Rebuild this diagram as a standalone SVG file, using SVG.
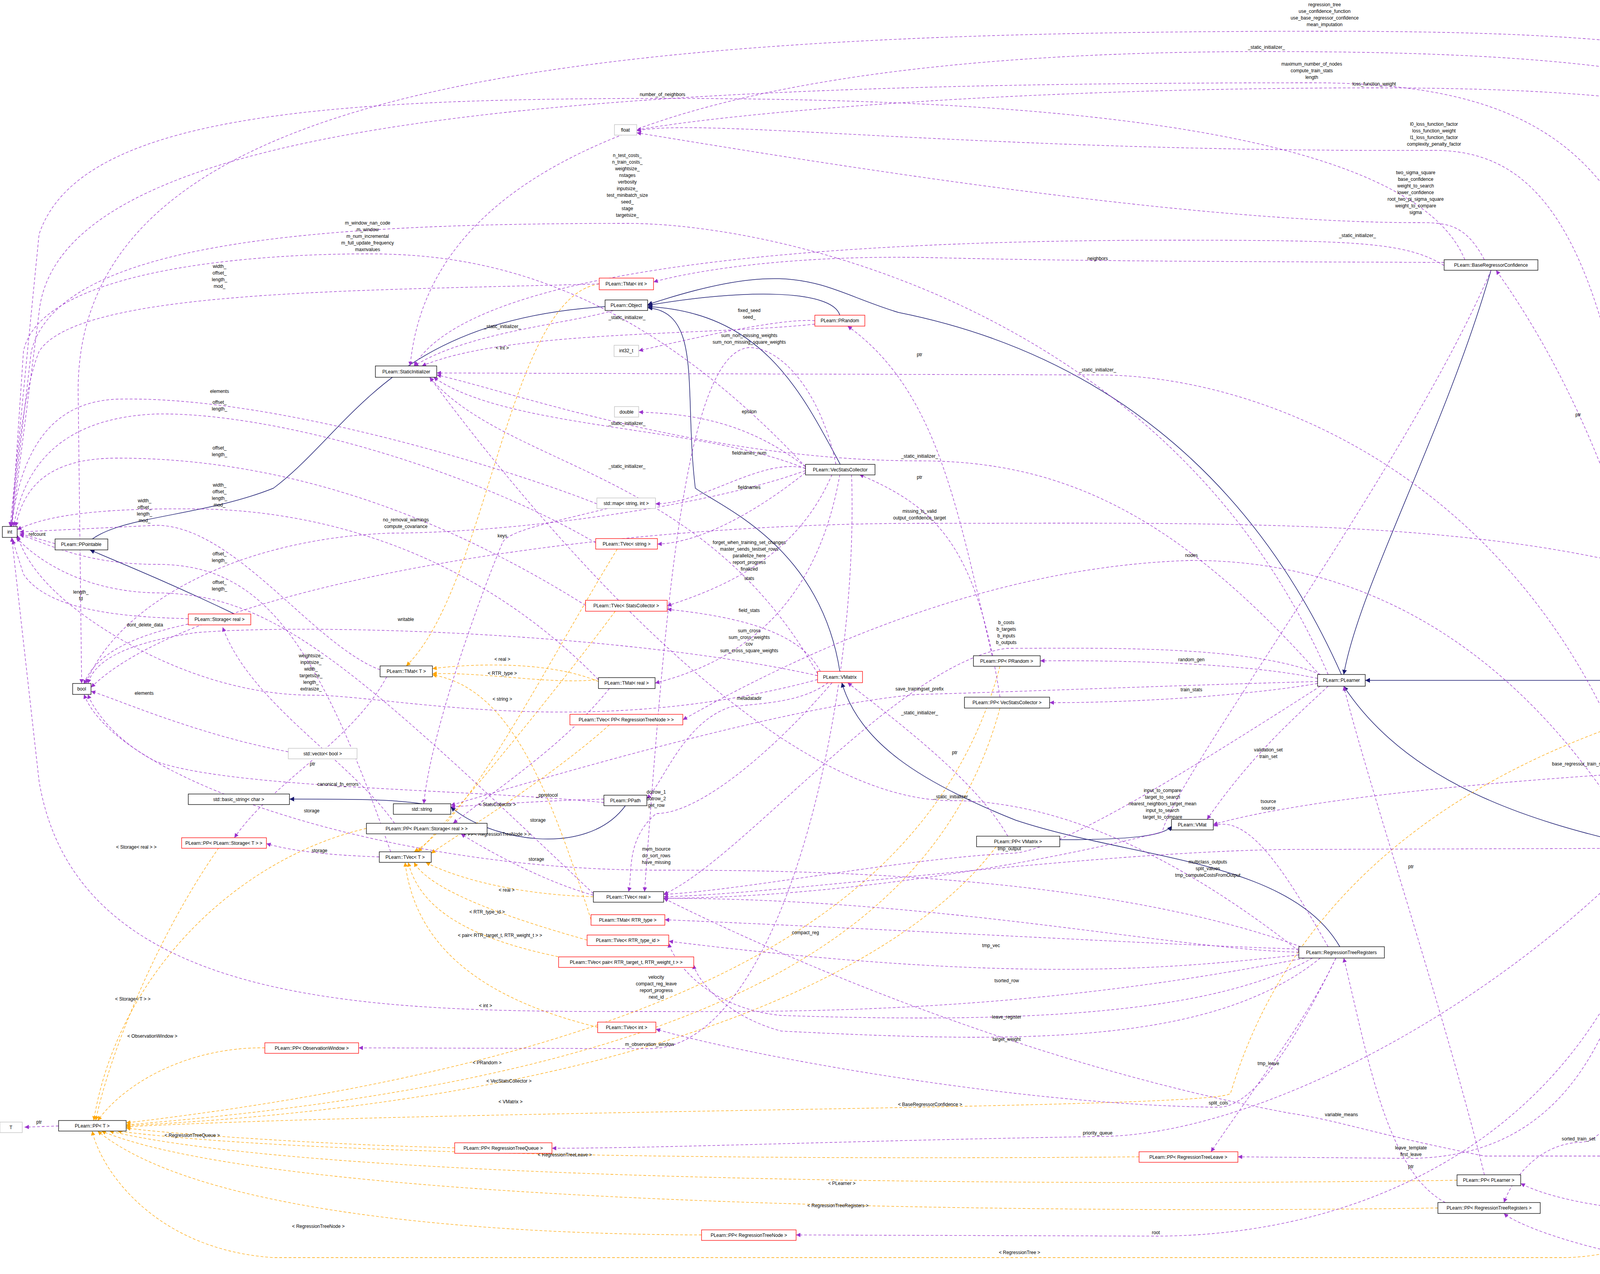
<svg xmlns="http://www.w3.org/2000/svg" width="5213" height="3262" viewBox="0 0 5213 3262">
<style>
text{font-family:"Liberation Sans",Arial,sans-serif;font-size:12px;fill:#000}
.n text{text-anchor:middle}
.b{fill:#fff;stroke:#000;stroke-width:1.3}
.r{fill:#fff;stroke:#ff0000;stroke-width:1.3}
.g{fill:#fff;stroke:#bfbfbf;stroke-width:1.3}
.s{fill:#bfbfbf;stroke:#000;stroke-width:1.3}
.e{fill:none;stroke:#9a32cd;stroke-width:1.3;stroke-dasharray:7,5;marker-end:url(#mp)}
.i{fill:none;stroke:#191970;stroke-width:1.5;marker-end:url(#mn)}
.o{fill:none;stroke:#ffa500;stroke-width:1.3;stroke-dasharray:7,5;marker-end:url(#mo)}
.l text{text-anchor:middle}
</style>
<defs>
<marker id="mp" viewBox="0 0 10 10" refX="10" refY="5" markerWidth="11" markerHeight="11" markerUnits="userSpaceOnUse" orient="auto"><path d="M0,0 L10,5 L0,10 z" fill="#9a32cd"/></marker>
<marker id="mn" viewBox="0 0 10 10" refX="10" refY="5" markerWidth="12" markerHeight="12" markerUnits="userSpaceOnUse" orient="auto"><path d="M0,0 L10,5 L0,10 z" fill="#191970"/></marker>
<marker id="mo" viewBox="0 0 10 10" refX="10" refY="5" markerWidth="11" markerHeight="11" markerUnits="userSpaceOnUse" orient="auto"><path d="M0,0 L10,5 L0,10 z" fill="#ffa500"/></marker>
</defs>
<rect width="5213" height="3262" fill="#fff"/>
<g id="connectors">
<path class="i" d="M1549,785 C1000,820 900,1100 700,1250 C500,1330 260,1320 210,1408"/>
<path class="i" d="M2150,807 C2130,740 1900,740 1658,782"/>
<path class="i" d="M2151,1189 C2050,1000 1950,800 1658,785"/>
<path class="i" d="M2150,1719 C2100,1400 1850,1300 1780,1250 C1750,1000 1800,800 1658,788"/>
<path class="i" d="M3434,1727 C3200,1200 2800,900 2300,800 C2100,740 2050,650 1658,780"/>
<path class="i" d="M3817,692 C3700,1100 3480,1500 3440,1727"/>
<path class="i" d="M4191,2165 C3900,2100 3600,2000 3440,1757"/>
<path class="i" d="M5080,1915 C4950,1790 4850,1742 4700,1742 L3495,1742"/>
<path class="i" d="M3430,2424 C3300,2200 2900,2200 2600,2100 C2350,2000 2200,1900 2155,1748"/>
<path class="i" d="M600,1572 C450,1500 330,1450 230,1408"/>
<path class="i" d="M2713,2150 C2900,2150 2980,2140 3000,2115"/>
<path class="i" d="M1080,2058 C1000,2046 900,2046 741,2046"/>
<path class="i" d="M1601,2063 C1500,2200 1250,2150 1154,2066"/>

<path class="o" d="M1534,727 C1300,760 1250,1500 1040,1705"/>
<path class="o" d="M1532,1745 C1400,1690 1200,1700 1107,1712"/>
<path class="o" d="M1560,1735 C1450,1760 1250,1720 1107,1725"/>
<path class="o" d="M1513,2355 C1400,2000 1300,1760 1107,1728"/>
<path class="o" d="M1580,1406 C1400,1700 1200,2100 1060,2181"/>
<path class="o" d="M1575,1565 C1400,1800 1150,2100 1070,2181"/>
<path class="o" d="M1560,1856 C1400,2000 1150,2150 1104,2185"/>
<path class="o" d="M1519,2296 C1300,2290 1150,2240 1090,2208"/>
<path class="o" d="M1503,2407 C1300,2350 1100,2280 1060,2208"/>
<path class="o" d="M1500,2463 C1250,2420 1080,2350 1045,2208"/>
<path class="o" d="M1530,2630 C1200,2550 1060,2400 1037,2208"/>
<path class="o" d="M938,2121 C600,2200 300,2500 240,2869"/>
<path class="o" d="M560,2171 C400,2400 280,2700 245,2869"/>
<path class="o" d="M678,2683 C500,2680 330,2760 250,2869"/>
<path class="o" d="M2560,1706 C2400,2300 1800,2700 323,2875"/>
<path class="o" d="M2560,1813 C2400,2400 1800,2760 323,2880"/>
<path class="o" d="M2550,2168 C2300,2500 1600,2820 323,2882"/>
<path class="o" d="M4200,1837 C3700,2000 3300,2300 3150,2800 C3100,2840 1200,2840 323,2885"/>
<path class="o" d="M1164,2939 C800,2930 400,2900 323,2888"/>
<path class="o" d="M2916,2962 C2000,2970 800,2960 300,2896"/>
<path class="o" d="M3730,3022 C2500,3040 800,3020 280,2896"/>
<path class="o" d="M3681,3093 C2500,3110 700,3080 260,2896"/>
<path class="o" d="M1796,3162 C1200,3160 500,3100 250,2896"/>
<path class="o" d="M4620,3013 C4400,3100 4200,3220 4000,3220 L700,3220 C400,3200 260,3000 236,2896"/>

<path class="e" d="M150,2883 L63,2886"/>
<path class="e" d="M141,1392 L50,1366"/>
<path class="e" d="M482,1584 C300,1580 120,1560 60,1470 L32,1382"/>
<path class="e" d="M482,1598 C330,1630 240,1680 215,1752"/>
<path class="e" d="M1010,2108 C900,1950 640,1800 570,1606"/>
<path class="e" d="M990,1733 C900,1900 700,2000 600,2145"/>
<path class="e" d="M971,2194 C850,2190 750,2180 682,2160"/>
<path class="e" d="M1560,1763 C1450,1900 1300,2000 1160,2108"/>
<path class="e" d="M1519,2292 C1400,2260 1250,2180 1180,2135"/>
<path class="e" d="M973,1715 C800,1650 600,1345 400,1345 L50,1362"/>
<path class="e" d="M1000,2181 C800,1600 650,1445 400,1445 C200,1445 100,1380 50,1370"/>
<path class="e" d="M1519,2288 C900,1700 700,1520 400,1518 C200,1515 80,1420 42,1376"/>
<path class="e" d="M1532,1740 C1200,1400 800,1305 500,1303 C200,1300 100,1330 44,1356"/>
<path class="e" d="M1534,727 C900,745 200,742 100,900 C60,1000 40,1200 30,1348"/>
<path class="e" d="M1525,1390 C1200,1200 700,1055 400,1060 C150,1070 60,1200 35,1348"/>
<path class="e" d="M1499,1550 C1100,1300 700,1173 300,1173 C120,1173 60,1250 40,1348"/>
<path class="e" d="M1528,1290 C1300,1200 700,1012 300,1022 C100,1030 50,1200 28,1348"/>
<path class="e" d="M738,1925 C500,1880 300,1790 233,1770"/>
<path class="e" d="M1555,1302 C1400,1340 1300,1360 1286,1390 C1200,1600 1100,1900 1085,2058"/>
<path class="e" d="M1546,2046 C1400,2050 1250,2060 1154,2066"/>
<path class="e" d="M1546,2055 C1200,2020 600,2020 400,1950 C300,1900 240,1820 225,1778"/>
<path class="e" d="M2062,1205 C1800,1300 1300,1365 1000,1365 C600,1380 300,1550 220,1750"/>
<path class="e" d="M2093,1730 C1600,1620 800,1595 500,1620 C300,1650 240,1700 225,1750"/>
<path class="e" d="M2093,1740 C1500,1900 1000,1780 800,1780 C600,1780 400,1700 250,1600 C100,1500 60,1420 44,1370"/>
<path class="e" d="M2062,1195 C1900,1070 1750,1060 1635,1055"/>
<path class="e" d="M2062,1199 C1950,1170 1800,1290 1678,1290"/>
<path class="e" d="M2062,1210 C1950,1300 1800,1390 1683,1393"/>
<path class="e" d="M2140,1189 C2100,1000 2000,890 1918,890 C1750,900 1700,1600 1650,2283"/>
<path class="e" d="M2130,1215 C2050,1400 1900,1490 1708,1551"/>
<path class="e" d="M2150,1215 C2100,1500 1950,1680 1677,1749"/>
<path class="e" d="M2062,1195 C1600,700 1200,650 941,650 C600,650 100,700 60,900 L30,1348"/>
<path class="e" d="M2100,1719 C2050,1620 1900,1580 1708,1560"/>
<path class="e" d="M2120,1748 C2050,1800 1950,1800 1870,1810 C1750,1850 1700,2000 1656,2045"/>
<path class="e" d="M2086,821 C2000,815 1800,860 1635,898"/>
<path class="e" d="M2540,1679 C2450,1300 2400,1000 2170,835"/>
<path class="e" d="M2560,1785 C2500,1400 2400,1300 2200,1215"/>
<path class="e" d="M3373,1737 C3200,1700 2900,1690 2663,1692"/>
<path class="e" d="M3373,1750 C3200,1780 2900,1800 2687,1799"/>
<path class="e" d="M3373,1745 C3000,1755 2500,1775 2350,1778 C2100,1800 1700,1900 1154,2062"/>
<path class="e" d="M3380,1727 C3200,1650 2800,1660 2576,1660 C2300,1700 1900,2200 1699,2290"/>
<path class="e" d="M4191,2160 C3800,1500 3300,1435 3050,1435 C2500,1450 2000,1700 1748,1843"/>
<path class="e" d="M4998,1920 C4500,1300 3500,1340 2354,1340 C1500,1340 500,1500 233,1760"/>
<path class="e" d="M3380,1730 C3000,1300 2700,1180 2354,1180 C1800,1180 1300,1000 1118,960"/>
<path class="e" d="M4230,2158 C4000,1300 3300,960 2810,960 L1118,955"/>
<path class="e" d="M5120,1915 C5100,400 5000,132 3242,132 C1800,132 1100,400 1050,937"/>
<path class="e" d="M3697,680 C3600,620 3475,615 3000,615 C2000,615 1200,700 1060,937"/>
<path class="e" d="M1570,795 C1450,830 1200,850 1060,937"/>
<path class="e" d="M2086,830 C1800,860 1300,845 1080,937"/>
<path class="e" d="M2062,1200 C1800,1090 1300,1100 1110,966"/>
<path class="e" d="M2093,1725 C1800,1200 1300,1200 1100,966"/>
<path class="e" d="M5130,1915 C5200,300 5100,80 3391,80 C1500,80 200,200 200,1000 L209,1750"/>
<path class="e" d="M4300,2158 C4400,600 4200,212 3358,212 C1500,212 150,300 100,800 L30,1348"/>
<path class="e" d="M5150,1915 C5200,500 5000,225 3518,225 C2500,225 1800,300 1630,333"/>
<path class="e" d="M3750,665 C3600,300 2500,252 1696,252 C800,252 200,300 100,600 L26,1348"/>
<path class="e" d="M4260,2158 C4200,700 4000,385 3671,385 C2500,390 1800,300 1630,335"/>
<path class="e" d="M3800,665 C3750,570 3700,570 3624,570 C3000,570 2000,400 1630,340"/>
<path class="e" d="M3400,1727 C3000,800 2000,572 1606,572 C800,572 150,620 80,900 L28,1348"/>
<path class="e" d="M3697,672 C3300,670 2810,670 2400,660 C2000,650 1750,700 1673,722"/>
<path class="e" d="M4998,1925 C4800,1870 4500,1850 4407,1830"/>
<path class="e" d="M4998,1935 C4500,1960 3500,2000 3106,2111"/>
<path class="e" d="M5180,1945 C5150,2600 5100,3100 4900,3100 C4800,3100 4760,3050 4740,3013"/>
<path class="e" d="M5150,1945 C5120,2800 5050,3115 4504,3115 C4100,3110 3950,3060 3893,3030"/>
<path class="e" d="M5160,1945 C5150,3000 5050,3250 4504,3250 C4200,3250 3900,3150 3850,3107"/>
<path class="e" d="M4250,2186 C4200,2700 4150,2925 4041,2925 C3950,2930 3880,3000 3850,3079"/>
<path class="e" d="M4690,2983 C4600,2700 4400,2400 4285,2186"/>
<path class="e" d="M3800,3008 C3700,2600 3500,2000 3440,1757"/>
<path class="e" d="M3700,3079 C3550,3000 3500,2700 3440,2453"/>
<path class="e" d="M4220,2186 C4150,2800 3900,2962 3612,2966 L3169,2962"/>
<path class="e" d="M3420,2453 C3350,2600 3250,2730 3100,2949"/>
<path class="e" d="M3400,1757 C3300,1850 3200,1940 3090,2098"/>
<path class="e" d="M3400,2424 C3300,2250 3200,2080 3106,2115"/>
<path class="e" d="M5100,1945 C5000,2600 4800,2960 4400,2960 L3800,2960 C3500,2900 3434,2870 3300,2850 C2500,2700 1800,2350 1699,2300"/>
<path class="e" d="M4191,2172 L3300,2175 C2800,2180 2000,2290 1699,2296"/>
<path class="e" d="M3325,2430 C3000,2420 2300,2380 1702,2355"/>
<path class="e" d="M3325,2438 C3000,2430 2400,2300 1699,2300"/>
<path class="e" d="M3325,2445 C3000,2480 2600,2520 1712,2410"/>
<path class="e" d="M3360,2453 C3100,2600 2600,2620 2000,2600 C1800,2580 1720,2450 1712,2415"/>
<path class="e" d="M3380,2453 C3100,2680 2600,2670 2000,2640 C1850,2600 1780,2500 1776,2470"/>
<path class="e" d="M2180,1215 C2200,1800 2000,2685 1663,2685 L918,2683"/>
<path class="e" d="M3340,2453 C2600,2600 2000,2590 1680,2590 C1000,2590 200,2600 100,2000 L30,1376"/>
<path class="e" d="M3330,2424 C2800,2230 2000,2228 1680,2228 C1000,2228 300,2000 215,1778"/>
<path class="e" d="M2130,1748 C2000,1900 1800,2083 1680,2083 C1600,2150 1620,2240 1609,2283"/>
<path class="e" d="M3380,1757 C3000,2000 2700,2185 2584,2185 C2300,2200 1900,2280 1699,2290"/>
<path class="e" d="M3817,692 C3600,1200 3000,2000 2976,2130 C2500,2250 2000,2300 1699,2300"/>
<path class="e" d="M4200,2186 C3800,2600 3200,2910 2810,2910 C2200,2920 1700,2940 1413,2940"/>
<path class="e" d="M4260,2186 C4100,2900 3500,3165 2959,3165 L2038,3162"/>
<path class="e" d="M3420,2453 C3300,2700 3200,2835 3119,2835 C2600,2830 1900,2700 1679,2635"/>
<path class="e" d="M2580,2141 C2500,2000 2300,1850 2170,1748"/>
<path class="e" d="M4270,1809 C4200,1400 4050,1000 3830,692"/>
<path class="e" d="M3325,2435 C2900,2100 2600,2050 2437,2050 C1900,2050 1200,1100 1100,966"/>
</g>
<g class="l">
<text x="100" y="2877">ptr</text>
<text x="95" y="1372">refcount</text>
<text x="207" y="1520">length_</text><text x="207" y="1537">fd</text>
<text x="371" y="1604">dont_delete_data</text>
<text x="800" y="1960">ptr</text>
<text x="798" y="2080">storage</text>
<text x="818" y="2182">storage</text>
<text x="1377" y="2104">storage</text>
<text x="1373" y="2204">storage</text>
<text x="370" y="1286">width_</text><text x="370" y="1303">offset_</text><text x="370" y="1320">length_</text><text x="370" y="1337">mod_</text>
<text x="562" y="1422">offset_</text><text x="562" y="1439">length_</text>
<text x="562" y="1495">offset_</text><text x="562" y="1512">length_</text>
<text x="562" y="1246">width_</text><text x="562" y="1263">offset_</text><text x="562" y="1280">length_</text><text x="562" y="1297">mod_</text>
<text x="562" y="686">width_</text><text x="562" y="703">offset_</text><text x="562" y="720">length_</text><text x="562" y="737">mod_</text>
<text x="562" y="1034">offset_</text><text x="562" y="1051">length_</text>
<text x="562" y="1151">offset_</text><text x="562" y="1168">length_</text>
<text x="562" y="1006">elements</text>
<text x="369" y="1779">elements</text>
<text x="1286" y="1376">keys</text>
<text x="1400" y="2040">_pprotocol</text>
<text x="865" y="2012">canonical_fn_errors</text>
<text x="1039" y="1335">no_removal_warnings</text><text x="1039" y="1352">compute_covariance</text>
<text x="1039" y="1590">writable</text>
<text x="796" y="1683">weightsize_</text><text x="796" y="1700">inputsize_</text><text x="796" y="1717">width_</text><text x="796" y="1734">targetsize_</text><text x="796" y="1751">length_</text><text x="796" y="1768">extrasize_</text>
<text x="1918" y="1058">epsilon</text>
<text x="1918" y="1164">fieldnames_num</text>
<text x="1918" y="1252">fieldnames</text>
<text x="1918" y="863">sum_non_missing_weights</text><text x="1918" y="880">sum_non_missing_square_weights</text>
<text x="1918" y="1393">forget_when_training_set_changes</text><text x="1918" y="1410">master_sends_testset_rows</text><text x="1918" y="1427">parallelize_here</text><text x="1918" y="1444">report_progress</text><text x="1918" y="1461">finalized</text>
<text x="1918" y="1485">stats</text>
<text x="1918" y="1619">sum_cross</text><text x="1918" y="1636">sum_cross_weights</text><text x="1918" y="1653">cov</text><text x="1918" y="1670">sum_cross_square_weights</text>
<text x="941" y="575">m_window_nan_code</text><text x="941" y="592">m_window</text><text x="941" y="609">m_num_incremental</text><text x="941" y="626">m_full_update_frequency</text><text x="941" y="643">maxnvalues</text>
<text x="1918" y="1567">field_stats</text>
<text x="1918" y="1792">metadatadir</text>
<text x="1918" y="799">fixed_seed</text><text x="1918" y="816">seed_</text>
<text x="2354" y="912">ptr</text>
<text x="2354" y="1226">ptr</text>
<text x="3050" y="1693">random_gen</text>
<text x="3050" y="1770">train_stats</text>
<text x="2354" y="1768">save_trainingset_prefix</text>
<text x="2576" y="1598">b_costs</text><text x="2576" y="1615">b_targets</text><text x="2576" y="1632">b_inputs</text><text x="2576" y="1649">b_outputs</text>
<text x="3050" y="1426">nodes</text>
<text x="2354" y="1313">missing_is_valid</text><text x="2354" y="1330">output_confidence_target</text>
<text x="2354" y="1172">_static_initializer_</text>
<text x="2810" y="951">_static_initializer_</text>
<text x="3242" y="125">_static_initializer_</text>
<text x="3475" y="607">_static_initializer_</text>
<text x="1605" y="817">_static_initializer_</text>
<text x="1286" y="840">_static_initializer_</text>
<text x="1605" y="1088">_static_initializer_</text>
<text x="1605" y="1198">_static_initializer_</text>
<text x="2437" y="2044">_static_initializer_</text>
<text x="2354" y="1829">_static_initializer_</text>
<text x="3391" y="16">regression_tree</text><text x="3391" y="33">use_confidence_function</text><text x="3391" y="50">use_base_regressor_confidence</text><text x="3391" y="67">mean_imputation</text>
<text x="3358" y="168">maximum_number_of_nodes</text><text x="3358" y="185">compute_train_stats</text><text x="3358" y="202">length</text>
<text x="3518" y="219">loss_function_weight</text>
<text x="1696" y="246">number_of_neighbors</text>
<text x="3671" y="322">l0_loss_function_factor</text><text x="3671" y="339">loss_function_weight</text><text x="3671" y="356">l1_loss_function_factor</text><text x="3671" y="373">complexity_penalty_factor</text>
<text x="3624" y="446">two_sigma_square</text><text x="3624" y="463">base_confidence</text><text x="3624" y="480">weight_to_search</text><text x="3624" y="497">lower_confidence</text><text x="3624" y="514">root_two_pi_sigma_square</text><text x="3624" y="531">weight_to_compare</text><text x="3624" y="548">sigma</text>
<text x="1606" y="402">n_test_costs_</text><text x="1606" y="419">n_train_costs_</text><text x="1606" y="436">weightsize_</text><text x="1606" y="453">nstages</text><text x="1606" y="470">verbosity</text><text x="1606" y="487">inputsize_</text><text x="1606" y="504">test_minibatch_size</text><text x="1606" y="521">seed_</text><text x="1606" y="538">stage</text><text x="1606" y="555">targetsize_</text>
<text x="2810" y="666">neighbors</text>
<text x="4705" y="1843">confidence_function_template</text><text x="4705" y="1860">confidence_function</text>
<text x="4041" y="1960">base_regressor_train_set</text>
<text x="4901" y="2971">tree_regressor_template</text><text x="4901" y="2988">tree_regressor</text>
<text x="4504" y="3074">base_regressor</text><text x="4504" y="3091">base_regressor_template</text>
<text x="4504" y="3245">sorted_train_set</text>
<text x="4041" y="2920">sorted_train_set</text>
<text x="4504" y="2481">ptr</text>
<text x="3612" y="2223">ptr</text>
<text x="3612" y="2991">ptr</text>
<text x="3612" y="2943">leave_template</text><text x="3612" y="2960">first_leave</text>
<text x="3247" y="2727">tmp_leave</text>
<text x="3247" y="1924">validation_set</text><text x="3247" y="1941">train_set</text>
<text x="3247" y="2056">tsource</text><text x="3247" y="2073">source</text>
<text x="3434" y="2858">variable_means</text>
<text x="3092" y="2211">multiclass_outputs</text><text x="3092" y="2228">split_values</text><text x="3092" y="2245">tmp_computeCostsFromOutput</text>
<text x="2062" y="2392">compact_reg</text>
<text x="2537" y="2425">tmp_vec</text>
<text x="2577" y="2515">tsorted_row</text>
<text x="2577" y="2608">leave_register</text>
<text x="2577" y="2665">target_weight</text>
<text x="1663" y="2678">m_observation_window</text>
<text x="1680" y="2506">velocity</text><text x="1680" y="2523">compact_reg_leave</text><text x="1680" y="2540">report_progress</text><text x="1680" y="2557">next_id</text>
<text x="1680" y="2178">mem_tsource</text><text x="1680" y="2195">do_sort_rows</text><text x="1680" y="2212">have_missing</text>
<text x="1680" y="2032">dotrow_1</text><text x="1680" y="2049">dotrow_2</text><text x="1680" y="2066">get_row</text>
<text x="2584" y="2160">b_weights</text><text x="2584" y="2177">tmp_output</text>
<text x="2976" y="2028">input_to_compare</text><text x="2976" y="2045">target_to_search</text><text x="2976" y="2062">nearest_neighbors_target_mean</text><text x="2976" y="2079">input_to_search</text><text x="2976" y="2096">target_to_compare</text>
<text x="2810" y="2905">priority_queue</text>
<text x="2959" y="3160">root</text>
<text x="3119" y="2828">split_cols</text>
<text x="2444" y="1931">ptr</text>
<text x="4040" y="1066">ptr</text>
<text x="1286" y="895">&lt; int &gt;</text>
<text x="1286" y="1692">&lt; real &gt;</text>
<text x="1286" y="1728">&lt; RTR_type &gt;</text>
<text x="1286" y="1794">&lt; string &gt;</text>
<text x="1273" y="2064">&lt; StatsCollector &gt;</text>
<text x="1273" y="2140">&lt; PP&lt; RegressionTreeNode &gt; &gt;</text>
<text x="1297" y="2283">&lt; real &gt;</text>
<text x="1247" y="2339">&lt; RTR_type_id &gt;</text>
<text x="1280" y="2399">&lt; pair&lt; RTR_target_t, RTR_weight_t &gt; &gt;</text>
<text x="1243" y="2579">&lt; int &gt;</text>
<text x="349" y="2173">&lt; Storage&lt; real &gt; &gt;</text>
<text x="340" y="2562">&lt; Storage&lt; T &gt; &gt;</text>
<text x="390" y="2657">&lt; ObservationWindow &gt;</text>
<text x="1247" y="2725">&lt; PRandom &gt;</text>
<text x="1303" y="2772">&lt; VecStatsCollector &gt;</text>
<text x="1307" y="2825">&lt; VMatrix &gt;</text>
<text x="2381" y="2832">&lt; BaseRegressorConfidence &gt;</text>
<text x="492" y="2911">&lt; RegressionTreeQueue &gt;</text>
<text x="1446" y="2961">&lt; RegressionTreeLeave &gt;</text>
<text x="2155" y="3034">&lt; PLearner &gt;</text>
<text x="2145" y="3091">&lt; RegressionTreeRegisters &gt;</text>
<text x="815" y="3144">&lt; RegressionTreeNode &gt;</text>
<text x="2610" y="3211">&lt; RegressionTree &gt;</text>
</g>
<g class="n">
<g id="n_int"><rect class="b" x="6" y="1348" width="38" height="28"/><text x="25" y="1366">int</text></g>
<g id="n_ppointable"><rect class="b" x="141" y="1380" width="135" height="28"/><text x="208" y="1398">PLearn::PPointable</text></g>
<g id="n_staticinit"><rect class="b" x="961" y="937" width="157" height="29"/><text x="1040" y="956">PLearn::StaticInitializer</text></g>
<g id="n_tmatint"><rect class="r" x="1534" y="712" width="139" height="30"/><text x="1603" y="731">PLearn::TMat&lt; int &gt;</text></g>
<g id="n_object"><rect class="b" x="1549" y="768" width="109" height="27"/><text x="1603" y="786">PLearn::Object</text></g>
<g id="n_int32"><rect class="g" x="1572" y="884" width="63" height="29"/><text x="1603" y="902">int32_t</text></g>
<g id="n_double"><rect class="g" x="1573" y="1041" width="62" height="27"/><text x="1604" y="1059">double</text></g>
<g id="n_map"><rect class="g" x="1528" y="1275" width="150" height="27"/><text x="1603" y="1293">std::map&lt; string, int &gt;</text></g>
<g id="n_tvecstring"><rect class="r" x="1525" y="1379" width="158" height="27"/><text x="1604" y="1397">PLearn::TVec&lt; string &gt;</text></g>
<g id="n_tvecsc"><rect class="r" x="1499" y="1537" width="209" height="28"/><text x="1603" y="1555">PLearn::TVec&lt; StatsCollector &gt;</text></g>
<g id="n_storagereal"><rect class="r" x="482" y="1572" width="160" height="28"/><text x="562" y="1590">PLearn::Storage&lt; real &gt;</text></g>
<g id="n_tmatT"><rect class="b" x="973" y="1705" width="134" height="28"/><text x="1040" y="1723">PLearn::TMat&lt; T &gt;</text></g>
<g id="n_tmatreal"><rect class="b" x="1532" y="1735" width="145" height="28"/><text x="1604" y="1753">PLearn::TMat&lt; real &gt;</text></g>
<g id="n_bool"><rect class="b" x="186" y="1750" width="47" height="28"/><text x="209" y="1768">bool</text></g>
<g id="n_float"><rect class="g" x="1573" y="319" width="57" height="27"/><text x="1601" y="337">float</text></g>
<g id="n_prandom"><rect class="r" x="2086" y="807" width="128" height="28"/><text x="2150" y="825">PLearn::PRandom</text></g>
<g id="n_vsc"><rect class="b" x="2062" y="1189" width="178" height="27"/><text x="2151" y="1207">PLearn::VecStatsCollector</text></g>
<g id="n_vmatrix"><rect class="r" x="2093" y="1719" width="115" height="29"/><text x="2150" y="1738">PLearn::VMatrix</text></g>
<g id="n_tvecpprtn"><rect class="r" x="1459" y="1829" width="289" height="27"/><text x="1603" y="1847">PLearn::TVec&lt; PP&lt; RegressionTreeNode &gt; &gt;</text></g>
<g id="n_ppprandom"><rect class="b" x="2492" y="1679" width="171" height="27"/><text x="2577" y="1697">PLearn::PP&lt; PRandom &gt;</text></g>
<g id="n_ppvsc"><rect class="b" x="2469" y="1785" width="218" height="28"/><text x="2578" y="1803">PLearn::PP&lt; VecStatsCollector &gt;</text></g>
<g id="n_plearner"><rect class="b" x="3373" y="1727" width="122" height="30"/><text x="3434" y="1746">PLearn::PLearner</text></g>
<g id="n_ppbrc"><rect class="b" x="4139" y="1809" width="268" height="28"/><text x="4273" y="1827">PLearn::PP&lt; BaseRegressorConfidence &gt;</text></g>
<g id="n_brw"><rect class="s" x="4998" y="1915" width="209" height="30"/><text x="5102" y="1934">PLearn::BaseRegressorWrapper</text></g>
<g id="n_rtree"><rect class="b" x="4191" y="2158" width="162" height="28"/><text x="4272" y="2176">PLearn::RegressionTree</text></g>
<g id="n_rtreg"><rect class="b" x="3325" y="2424" width="219" height="29"/><text x="3434" y="2443">PLearn::RegressionTreeRegisters</text></g>
<g id="n_ppplearner"><rect class="b" x="3730" y="3008" width="163" height="28"/><text x="3811" y="3026">PLearn::PP&lt; PLearner &gt;</text></g>
<g id="n_pprtreg"><rect class="b" x="3681" y="3079" width="262" height="28"/><text x="3812" y="3097">PLearn::PP&lt; RegressionTreeRegisters &gt;</text></g>
<g id="n_pprtree"><rect class="b" x="4602" y="2983" width="205" height="30"/><text x="4704" y="3002">PLearn::PP&lt; RegressionTree &gt;</text></g>
<g id="n_brc"><rect class="b" x="3697" y="665" width="240" height="27"/><text x="3817" y="683">PLearn::BaseRegressorConfidence</text></g>
<g id="n_vmat"><rect class="b" x="2999" y="2098" width="107" height="27"/><text x="3052" y="2116">PLearn::VMat</text></g>
<g id="n_ppvmatrix"><rect class="b" x="2500" y="2141" width="213" height="27"/><text x="2606" y="2159">PLearn::PP&lt; VMatrix &gt;</text></g>
<g id="n_ppstoragereal"><rect class="b" x="938" y="2108" width="309" height="27"/><text x="1092" y="2126">PLearn::PP&lt; PLearn::Storage&lt; real &gt; &gt;</text></g>
<g id="n_string"><rect class="b" x="1007" y="2058" width="147" height="27"/><text x="1080" y="2076">std::string</text></g>
<g id="n_basicstring"><rect class="b" x="482" y="2033" width="259" height="27"/><text x="611" y="2051">std::basic_string&lt; char &gt;</text></g>
<g id="n_ppath"><rect class="b" x="1546" y="2036" width="110" height="27"/><text x="1601" y="2054">PLearn::PPath</text></g>
<g id="n_vecbool"><rect class="g" x="738" y="1916" width="176" height="27"/><text x="826" y="1934">std::vector&lt; bool &gt;</text></g>
<g id="n_tvecT"><rect class="b" x="971" y="2181" width="133" height="27"/><text x="1037" y="2199">PLearn::TVec&lt; T &gt;</text></g>
<g id="n_ppstorageT"><rect class="r" x="465" y="2145" width="217" height="27"/><text x="573" y="2163">PLearn::PP&lt; PLearn::Storage&lt; T &gt; &gt;</text></g>
<g id="n_tvecreal"><rect class="b" x="1519" y="2283" width="180" height="27"/><text x="1609" y="2301">PLearn::TVec&lt; real &gt;</text></g>
<g id="n_tmatrtr"><rect class="r" x="1513" y="2342" width="189" height="27"/><text x="1607" y="2360">PLearn::TMat&lt; RTR_type &gt;</text></g>
<g id="n_tvecrtrid"><rect class="r" x="1503" y="2394" width="209" height="27"/><text x="1607" y="2412">PLearn::TVec&lt; RTR_type_id &gt;</text></g>
<g id="n_tvecpair"><rect class="r" x="1430" y="2450" width="346" height="27"/><text x="1603" y="2468">PLearn::TVec&lt; pair&lt; RTR_target_t, RTR_weight_t &gt; &gt;</text></g>
<g id="n_tvecint"><rect class="r" x="1530" y="2617" width="149" height="27"/><text x="1604" y="2635">PLearn::TVec&lt; int &gt;</text></g>
<g id="n_ppobs"><rect class="r" x="678" y="2670" width="240" height="27"/><text x="798" y="2688">PLearn::PP&lt; ObservationWindow &gt;</text></g>
<g id="n_ppT"><rect class="b" x="150" y="2869" width="173" height="27"/><text x="236" y="2887">PLearn::PP&lt; T &gt;</text></g>
<g id="n_T"><rect class="g" x="0" y="2873" width="57" height="27"/><text x="28" y="2891">T</text></g>
<g id="n_pprtq"><rect class="r" x="1164" y="2926" width="249" height="27"/><text x="1288" y="2944">PLearn::PP&lt; RegressionTreeQueue &gt;</text></g>
<g id="n_pprtl"><rect class="r" x="2916" y="2949" width="253" height="27"/><text x="3042" y="2967">PLearn::PP&lt; RegressionTreeLeave &gt;</text></g>
<g id="n_pprtn"><rect class="r" x="1796" y="3149" width="242" height="27"/><text x="1917" y="3167">PLearn::PP&lt; RegressionTreeNode &gt;</text></g>
</g>
</svg>
